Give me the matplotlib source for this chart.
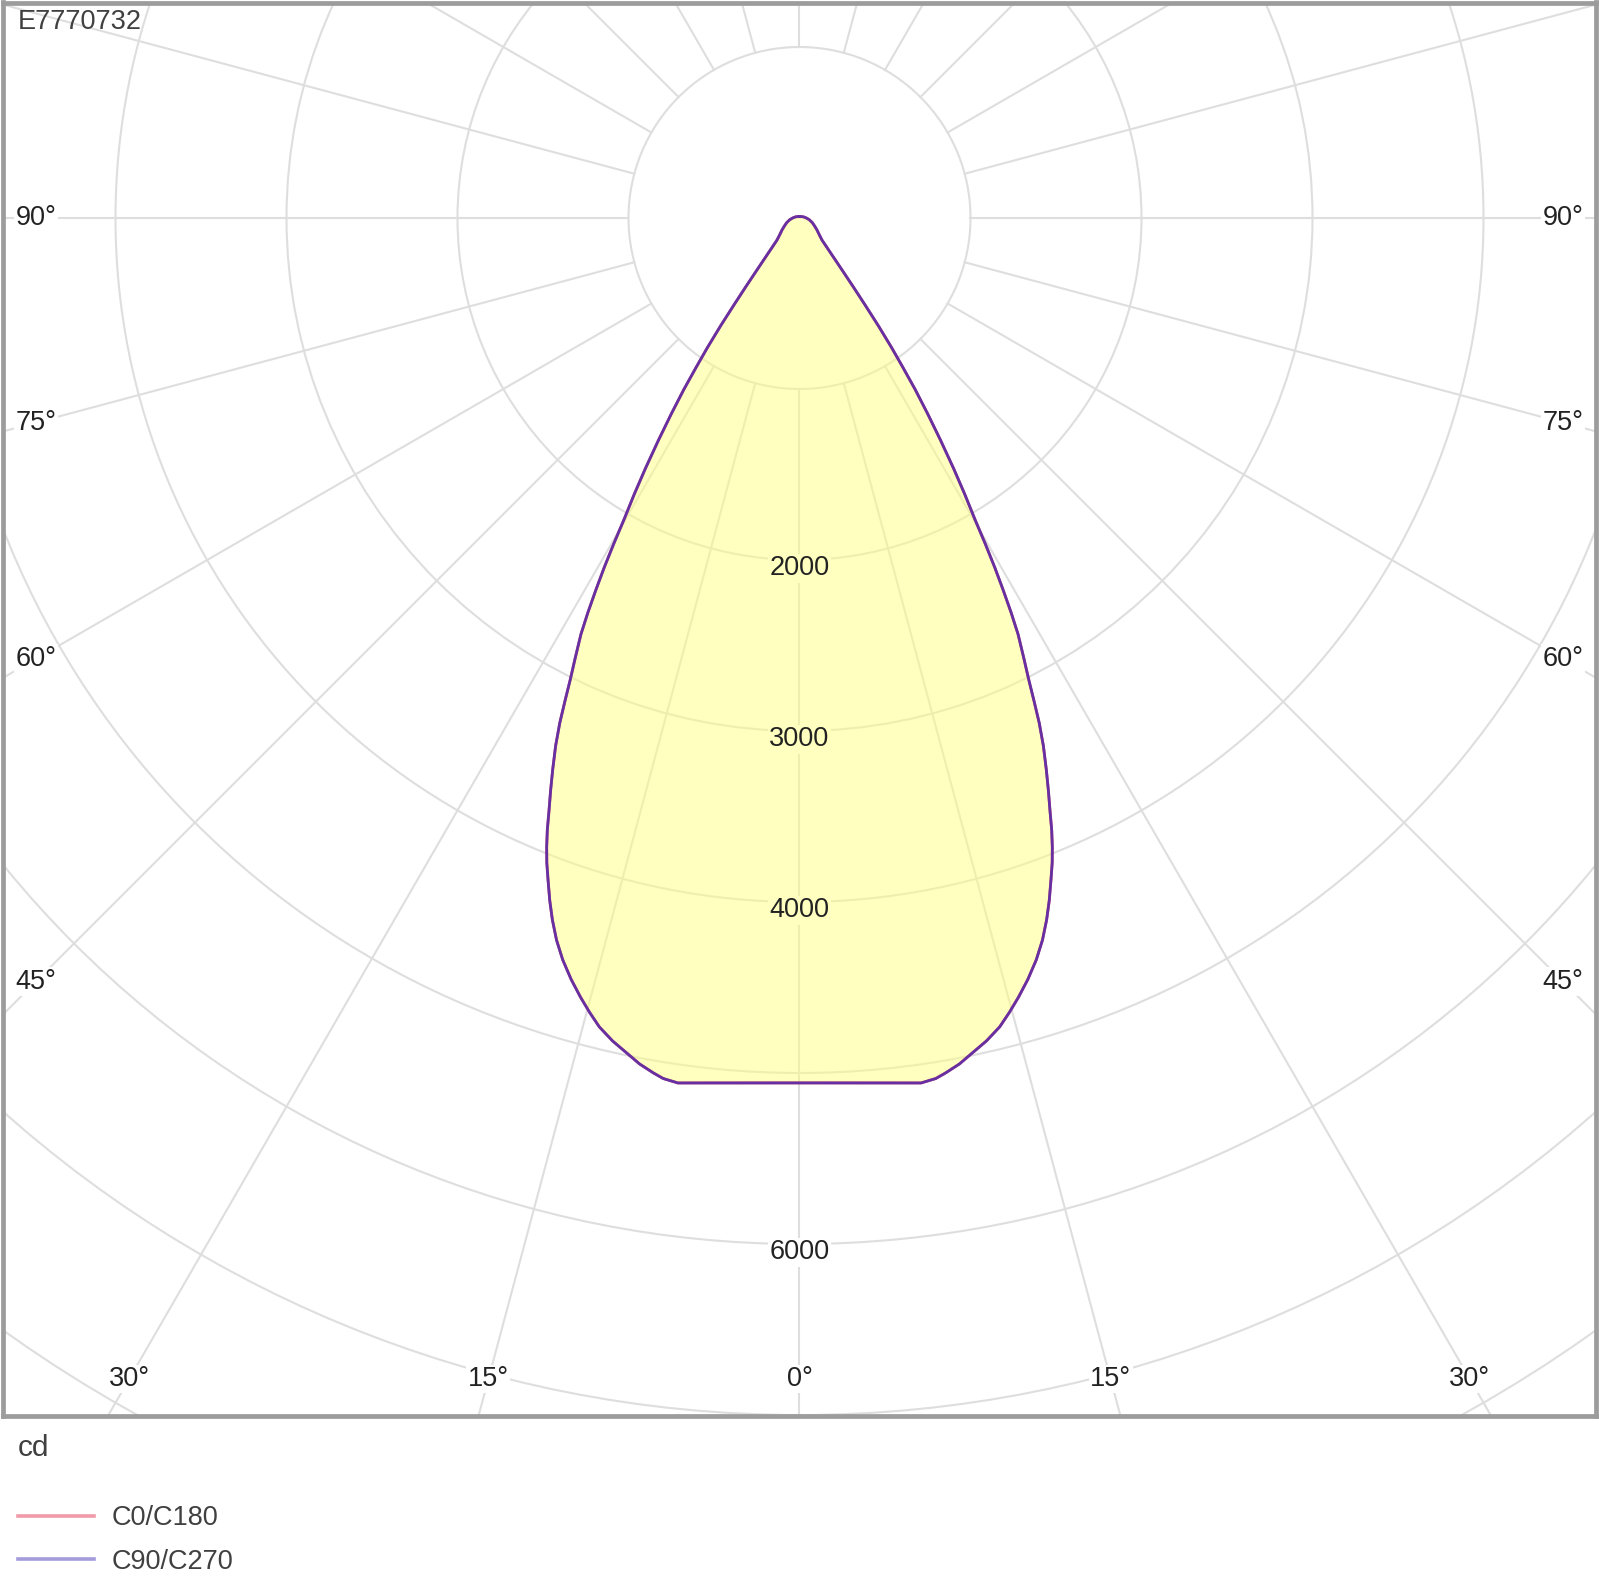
import numpy as np
import matplotlib.pyplot as plt
from matplotlib.patches import Circle
from matplotlib.lines import Line2D

plt.rcParams['font.family'] = ['Liberation Sans', 'DejaVu Sans']

# luminous intensity (gamma in degrees, I in cd)
gamma = [0, 3, 6, 8, 9, 9.7, 10.7, 11.7, 12.8, 13.9, 14.8, 15.7, 16.7, 17.7,
         18.6, 19.4, 20.1, 20.8, 21.4, 21.9, 22.4, 22.9, 23.5, 24.1, 24.8,
         25.4, 25.9, 26.4, 27.0, 27.7, 28.2, 28.7, 29.2, 29.7, 30.2, 30.9,
         31.6, 32.4, 33.2, 34.0, 34.7, 35.4, 36.2, 37.0, 38.0, 39.3, 41, 43,
         45.6, 50, 55.6, 62, 70, 80, 90, 105, 135, 180]
c0_c180 = [5058, 5065, 5086, 5108, 5095, 5072, 5035, 4986, 4935, 4873, 4805,
           4733, 4648, 4554, 4455, 4351, 4250, 4141, 4050, 3964, 3870, 3765,
           3650, 3535, 3400, 3268, 3140, 3016, 2890, 2750, 2620, 2480, 2340,
           2190, 2040, 1880, 1720, 1540, 1370, 1210, 1060, 930, 780, 640, 510,
           393, 300, 235, 184, 150, 124, 100, 80, 58, 40, 25, 12, 8]
c90_c270 = [5058, 5065, 5086, 5108, 5095, 5072, 5035, 4986, 4935, 4873, 4805,
            4733, 4648, 4554, 4455, 4351, 4250, 4141, 4050, 3964, 3870, 3765,
            3650, 3535, 3400, 3268, 3140, 3016, 2890, 2750, 2620, 2480, 2340,
            2190, 2040, 1880, 1720, 1540, 1370, 1210, 1060, 930, 780, 640, 510,
            393, 300, 235, 184, 150, 124, 100, 80, 58, 40, 25, 12, 8]

rings = [1000, 2000, 3000, 4000, 5000, 6000, 7000, 8000]
ring_labels = [2000, 3000, 4000, 6000]
angle_labels = [0, 15, 30, 45, 60, 75, 90]
title = 'E7770732'
unit = 'cd'
names = ['C0/C180', 'C90/C270']

W, H = 1599, 1582
FS = 19.5
fig = plt.figure(figsize=(W / 100, H / 100), dpi=100)

# pixel layout of the diagram box
scale = 0.171           # px per cd
cx, cy = 799.5, 218     # pole
x0, x1, y0, y1 = 2.5, 1596.5, 2.5, 1415.5
ax = fig.add_axes([x0 / W, 1 - y1 / H, (x1 - x0) / W, (y1 - y0) / H])
ax.set_xlim((x0 - cx) / scale, (x1 - cx) / scale)
ax.set_ylim(-(y1 - cy) / scale, (cy - y0) / scale)
ax.set_xticks([])
ax.set_yticks([])
for sp in ax.spines.values():
    sp.set_color('#9c9c9c')
    sp.set_linewidth(3.4)

grid_c = '#dedede'
for r in rings:
    ax.add_patch(Circle((0, 0), r, fill=False, ec=grid_c, lw=1.5, zorder=1))
for a in np.arange(0, 360, 15):
    t = np.radians(a)
    ax.plot([rings[0] * np.sin(t), 9500 * np.sin(t)],
            [-rings[0] * np.cos(t), -9500 * np.cos(t)],
            color=grid_c, lw=1.5, zorder=1)


def outline(g, I):
    g = np.radians(np.array(g, dtype=float))
    I = np.array(I, dtype=float)
    g = np.concatenate([-g[::-1], g[1:]])
    I = np.concatenate([I[::-1], I[1:]])
    return I * np.sin(g), -I * np.cos(g)


xa, ya = outline(gamma, c0_c180)
xb, yb = outline(gamma, c90_c270)
ax.fill(xa, ya, color='#ffff80', alpha=0.5, lw=0, zorder=2)
ax.plot(xa, ya, color='#d83050', lw=2.0, zorder=3)
ax.plot(xb, yb, color='#4030c0', lw=2.0, alpha=0.75, zorder=3)

# intensity labels
for v in ring_labels:
    bg = '#ffffc0' if v < c0_c180[0] else 'white'
    ax.annotate(str(v), xy=(0, -v), xytext=(0, -6), textcoords='offset points',
                ha='center', va='center', fontsize=FS, color='#222222',
                bbox=dict(fc=bg, ec='none', pad=1), zorder=4)

# angle labels where the rays meet an inset frame
lx = (cx - 36) / scale
ly = (1379 - cy) / scale
for a in angle_labels:
    t = np.radians(a)
    for s in ([1, -1] if a else [1]):
        d = min(lx / np.sin(t) if a else np.inf, ly / np.cos(t) if a < 90 else np.inf)
        ax.text(s * d * np.sin(t), -d * np.cos(t), f'{a}°', ha='center', va='center',
                fontsize=FS, color='#222222',
                bbox=dict(fc='white', ec='none', pad=1), zorder=4)

fig.text(18 / W, 1 - 22 / H, title, ha='left', va='center', fontsize=FS, color='#404040')
fig.text(18 / W, 1 - 1448 / H, unit, ha='left', va='center', fontsize=FS + 2, color='#404040')

handles = [Line2D([], [], color='#f19aa9', lw=2.6), Line2D([], [], color='#a39cdb', lw=2.6)]
fig.legend(handles, names, loc='upper left', bbox_to_anchor=(18 / W, 1 - 1505 / H),
           frameon=False, fontsize=FS, handlelength=2.8, handletextpad=0.65,
           labelspacing=0.65, borderpad=0, borderaxespad=0, labelcolor='#404040')

fig.savefig('out.png', dpi=100)
